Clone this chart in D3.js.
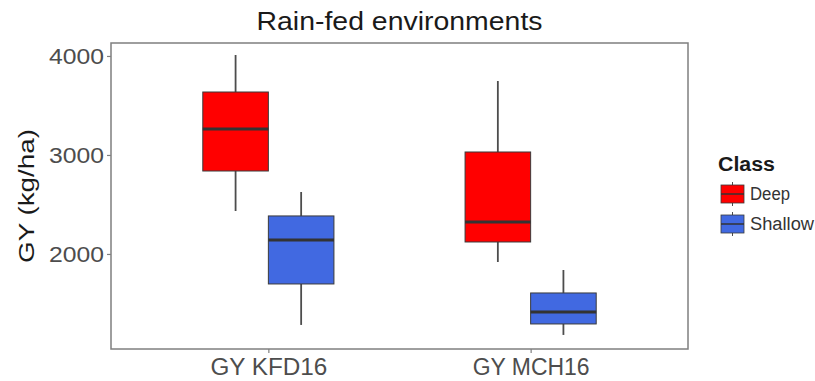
<!DOCTYPE html>
<html>
<head>
<meta charset="utf-8">
<script src="https://cdn.jsdelivr.net/npm/d3@7/dist/d3.min.js"></script>
<style>
  body { margin: 0; background: #fff; }
  svg { display: block; font-family: "Liberation Sans", Arial, sans-serif; }
</style>
</head>
<body>
<svg id="chart" width="815" height="381"></svg>
<script>
// Grain yield (kg/ha) by root class in two rain-fed trials
const categories = ["GY KFD16", "GY MCH16"];
const classes = ["Deep", "Shallow"];
const classColors = ["#ff0000", "#4169e1"];
// five-number summaries: [lower whisker, Q1, median, Q3, upper whisker]
const deepStats = [
  [2434, 2838, 3263, 3636, 4010],
  [1919, 2121, 2323, 3030, 3747]
];
const shallowStats = [
  [1283, 1697, 2141, 2384, 2626],
  [1182, 1293, 1414, 1606, 1838]
];
const yTicks = [2000, 3000, 4000];

const svg = d3.select("#chart");
const panel = { left: 111, right: 688, top: 43, bottom: 349 };

// discrete x positions with ggplot-style 0.6 expansion on each side
const xCat = d3.scaleLinear().domain([0.4, 2.6]).range([panel.left, panel.right]);
const unit = xCat(2) - xCat(1);
const y = d3.scaleLinear().domain([1040, 4131]).range([panel.bottom, panel.top]);

// title
svg.append("text")
  .attr("x", (panel.left + panel.right) / 2).attr("y", 30)
  .attr("text-anchor", "middle").attr("font-size", 25).attr("fill", "#1a1a1a")
  .attr("textLength", 286).attr("lengthAdjust", "spacingAndGlyphs")
  .text("Rain-fed environments");

const g = svg.append("g");

// boxes
const dodge = 0.25;
const boxW = unit * 0.25;
const series = [deepStats, shallowStats];
series.forEach((stats, si) => {
  stats.forEach((s, ci) => {
    const cx = xCat(ci + 1) + (si === 0 ? -dodge / 2 : dodge / 2) * unit;
    const [lo, q1, med, q3, hi] = s;
    g.append("line").attr("x1", cx).attr("x2", cx)
      .attr("y1", y(hi)).attr("y2", y(q3))
      .attr("stroke", "#4d4d4d").attr("stroke-width", 1.8);
    g.append("line").attr("x1", cx).attr("x2", cx)
      .attr("y1", y(q1)).attr("y2", y(lo))
      .attr("stroke", "#4d4d4d").attr("stroke-width", 1.8);
    g.append("rect")
      .attr("x", cx - boxW / 2).attr("width", boxW)
      .attr("y", y(q3)).attr("height", y(q1) - y(q3))
      .attr("fill", classColors[si]).attr("stroke", "#3a3a3a").attr("stroke-width", 1);
    g.append("line").attr("x1", cx - boxW / 2).attr("x2", cx + boxW / 2)
      .attr("y1", y(med)).attr("y2", y(med))
      .attr("stroke", "#333333").attr("stroke-width", 3);
  });
});

// panel border
svg.append("rect")
  .attr("x", panel.left).attr("y", panel.top)
  .attr("width", panel.right - panel.left).attr("height", panel.bottom - panel.top)
  .attr("fill", "none").attr("stroke", "#7f7f7f").attr("stroke-width", 1.5);

// y axis
const yAxis = d3.axisLeft(y).tickValues(yTicks).tickSize(4).tickPadding(3).tickFormat(d3.format("d"));
const ya = svg.append("g").attr("transform", `translate(${panel.left},0)`).call(yAxis);
ya.select(".domain").remove();
ya.selectAll(".tick line").attr("stroke", "#7f7f7f").attr("stroke-width", 1.2);
ya.selectAll(".tick text").attr("font-size", 22).attr("fill", "#4d4d4d")
  .attr("font-family", "Liberation Sans, Arial, sans-serif")
  .attr("textLength", 55).attr("lengthAdjust", "spacingAndGlyphs");

// x axis
const xAxis = d3.axisBottom(xCat).tickValues([1, 2]).tickSize(4).tickPadding(6)
  .tickFormat(d => categories[d - 1]);
const xa = svg.append("g").attr("transform", `translate(0,${panel.bottom})`).call(xAxis);
xa.select(".domain").remove();
xa.selectAll(".tick line").attr("stroke", "#7f7f7f").attr("stroke-width", 1.2);
xa.selectAll(".tick text").attr("font-size", 23).attr("fill", "#4d4d4d")
  .attr("font-family", "Liberation Sans, Arial, sans-serif")
  .attr("textLength", 117).attr("lengthAdjust", "spacingAndGlyphs");

// y title
svg.append("text")
  .attr("transform", `translate(34,${(panel.top + panel.bottom) / 2}) rotate(-90)`)
  .attr("text-anchor", "middle").attr("font-size", 22).attr("fill", "#1a1a1a")
  .attr("textLength", 134).attr("lengthAdjust", "spacingAndGlyphs")
  .text("GY (kg/ha)");

// legend
const lg = svg.append("g").attr("transform", "translate(718,0)");
lg.append("text").attr("x", 0).attr("y", 171)
  .attr("font-size", 20).attr("font-weight", "bold").attr("fill", "#1a1a1a")
  .attr("textLength", 57).attr("lengthAdjust", "spacingAndGlyphs")
  .text("Class");
const keyY = [185, 215];
const labelW = [40, 64];
classes.forEach((c, i) => {
  const ky = keyY[i], kx = 3, kw = 23, kh = 18;
  lg.append("line").attr("x1", kx + kw / 2).attr("x2", kx + kw / 2)
    .attr("y1", ky - 3).attr("y2", ky + kh + 3)
    .attr("stroke", "#4d4d4d").attr("stroke-width", 1);
  lg.append("rect").attr("x", kx).attr("y", ky).attr("width", kw).attr("height", kh)
    .attr("fill", classColors[i]).attr("stroke", "#3a3a3a").attr("stroke-width", 0.8);
  lg.append("line").attr("x1", kx).attr("x2", kx + kw)
    .attr("y1", ky + kh / 2).attr("y2", ky + kh / 2)
    .attr("stroke", "#333333").attr("stroke-width", 1.5);
  lg.append("text").attr("x", 32).attr("y", ky + kh / 2 + 6)
    .attr("font-size", 18).attr("fill", "#333333")
    .attr("textLength", labelW[i]).attr("lengthAdjust", "spacingAndGlyphs")
    .text(c);
});
</script>
</body>
</html>
